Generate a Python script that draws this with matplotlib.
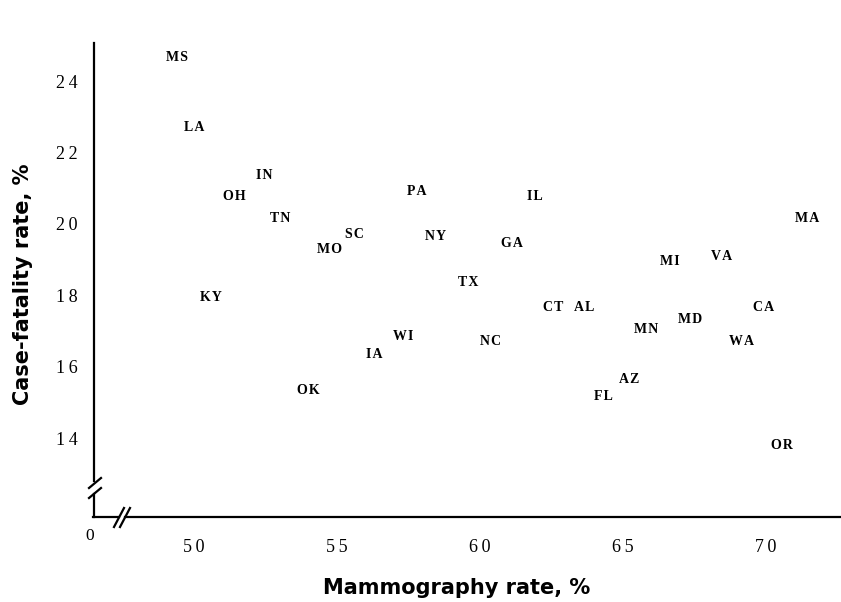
import matplotlib.pyplot as plt
from matplotlib.lines import Line2D

# Datos: tasa de mamografia vs tasa de letalidad por estado
estados = ['MS', 'LA', 'IN', 'OH', 'TN', 'KY', 'MO', 'SC', 'PA', 'NY',
           'IL', 'GA', 'TX', 'CT', 'AL', 'WI', 'IA', 'NC', 'OK', 'FL',
           'AZ', 'MN', 'MD', 'MI', 'VA', 'CA', 'WA', 'MA', 'OR']
mamografia = [49.4, 50.0, 52.45, 51.4, 53.0, 50.6, 54.75, 55.6, 57.8, 58.45,
              61.9, 61.1, 59.6, 62.55, 63.65, 57.3, 56.3, 60.35, 54.0, 64.3,
              65.2, 65.8, 67.35, 66.65, 68.45, 69.9, 69.15, 71.45, 70.55]
letalidad = [24.67, 22.71, 21.37, 20.78, 20.16, 17.95, 19.29, 19.71, 20.92, 19.66,
             20.78, 19.46, 18.37, 17.67, 17.67, 16.86, 16.35, 16.72, 15.34, 15.18,
             15.65, 17.03, 17.31, 18.96, 19.10, 17.67, 16.72, 20.16, 13.80]
x_ticks = [50, 55, 60, 65, 70]
y_ticks = [14, 16, 18, 20, 22, 24]

W, H = 841, 602
fig = plt.figure(figsize=(W / 100, H / 100), dpi=100)
ax = fig.add_axes([94 / W, 1 - 517 / H, 1 - 94 / W, (517 - 43) / H])

def espaciado(s, sep='\u2009'):
    # letras separadas como en la tipografia original
    return sep.join(s)

for e, x, y in zip(estados, mamografia, letalidad):
    ax.text(x, y, espaciado(e, '\u200a'), ha='center', va='center', fontsize=10,
            family='Liberation Serif', fontweight='bold')

ax.set_xlim(46.5, 72.62)
ax.set_ylim(11.79, 25.07)
ax.set_xticks(x_ticks)
ax.set_xticklabels([espaciado(str(t)) for t in x_ticks])
ax.set_yticks(y_ticks)
ax.set_yticklabels([espaciado(str(t)) for t in y_ticks])
ax.tick_params(length=0, labelsize=13)
ax.tick_params(axis='x', pad=16)
ax.tick_params(axis='y', pad=12)
for lab in ax.get_xticklabels() + ax.get_yticklabels():
    lab.set_family('Liberation Serif')
for s in ax.spines.values():
    s.set_visible(False)

# Ejes con cortes, dibujados en pixeles de la figura
def px_line(x0, y0, x1, y1):
    fig.add_artist(Line2D([x0 / W, x1 / W], [1 - y0 / H, 1 - y1 / H],
                          transform=fig.transFigure, color='black', lw=1.6))

px_line(94, 43, 94, 481)
px_line(89, 488, 101, 478)
px_line(89, 498, 101, 488)
px_line(94, 494, 94, 517)
px_line(93, 517, 119, 517)
px_line(114, 527, 124, 508)
px_line(120, 527, 130, 508)
px_line(125, 517, 841, 517)

fig.text(90 / W, 1 - 536 / H, '0', ha='center', va='center',
         fontsize=12.5, family='Liberation Serif')

fig.text(457 / W, 1 - 588 / H, 'Mammography rate, %', ha='center', va='center',
         fontsize=15, family='DejaVu Sans', fontweight='bold')
fig.text(23 / W, 1 - 284 / H, 'Case-fatality rate, %', ha='center', va='center',
         rotation=90, fontsize=15, family='DejaVu Sans', fontweight='bold')

fig.savefig('out.png', dpi=100)
